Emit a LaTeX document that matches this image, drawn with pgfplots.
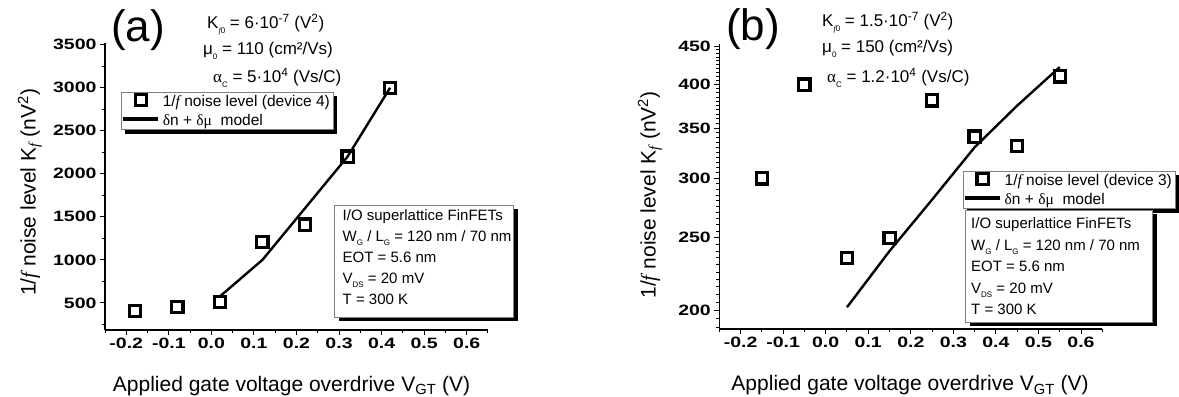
\documentclass[border=0pt]{standalone}
\usepackage{fontspec}
\setmainfont{Liberation Sans}
\newfontfamily\serif{Liberation Serif}
\newfontfamily\tickfont[FakeStretch=1.3]{Liberation Sans}
\usepackage{pgfplots}
\pgfplotsset{compat=1.18}
\usetikzlibrary{shadows}
\newcommand{\fit}{{\serif\itshape f}}
\newcommand{\sm}{\fontsize{15.5bp}{18bp}\selectfont}
\newcommand{\sub}[1]{\raisebox{-0.45ex}{\fontsize{8bp}{8bp}\selectfont #1}}
\pgfplotsset{myaxis/.style={
  scale only axis, clip=false,
  axis lines=left, axis line style={-, line width=1.2bp},
  xmin=-0.25, xmax=0.65,
  xtick={-0.2,-0.1,0,0.1,0.2,0.3,0.4,0.5,0.6},
  xticklabels={-0.2,-0.1,0.0,0.1,0.2,0.3,0.4,0.5,0.6},
  minor xtick={-0.25,-0.15,-0.05,0.05,0.15,0.25,0.35,0.45,0.55,0.65},
  tick align=outside, major tick length=5bp, minor tick length=3bp,
  every tick/.style={black, line width=1bp},
  tick label style={font=\tickfont\bfseries\fontsize{15bp}{17bp}\selectfont},
  label style={font=\fontsize{21bp}{24bp}\selectfont},
  ylabel={1/\fit{} noise level K\textsubscript{\fit} (nV\textsuperscript{2})},
  xlabel={Applied gate voltage overdrive V\textsubscript{GT} (V)},
  legend image code/.code={\draw[mark repeat=2,mark phase=2,#1] plot coordinates {(0bp,1.5bp) (17.5bp,1.5bp) (35bp,1.5bp)};},
  legend style={font=\sm, draw=gray, fill=white, line width=0.6bp, inner xsep=2bp, inner ysep=1bp,
     row sep=3.7bp, drop shadow={shadow xshift=4bp, shadow yshift=-4bp, fill=black, opacity=1},
     nodes={inner sep=1.5bp},
     /tikz/every odd column/.append style={column sep=3bp}},
  legend cell align=left,
  datamark/.style={only marks, mark=square, mark size=5.6bp, mark options={line width=3.2bp, fill=white, draw=black, solid}},
  modelline/.style={black, line width=2.4bp, no marks,
     legend image code/.code={\pgfsetfillcolor{black}\pgfpathrectangle{\pgfpoint{0bp}{-0.3bp}}{\pgfpoint{35bp}{3.6bp}}\pgfusepath{fill}}}
}}
\begin{document}
\begin{tikzpicture}
\useasboundingbox (0,0) rectangle (1179bp,397bp);
% ---------------- (a)
\begin{axis}[myaxis, at={(105bp,67bp)}, anchor=south west, width=383bp, height=287bp,
  ymin=185, ymax=3520,
  ytick={500,1000,1500,2000,2500,3000,3500},
  yticklabels={500,1000,1500,2000,2500,3000,3500},
  minor ytick={250,750,1250,1750,2250,2750,3250},
  ylabel style={at={(axis description cs:-0.196,0.48)}, anchor=center},
  xlabel style={at={(axis description cs:0.487,-0.213)}, anchor=base},
  legend style={at={(0.0418,0.829)}, anchor=north west}]
\addplot[datamark] coordinates {(-0.18,405) (-0.08,455) (0.02,510) (0.12,1205) (0.22,1410) (0.32,2200) (0.42,3000)};
\addlegendentry{1/\fit{} noise level (device 4)}
\addplot[modelline] coordinates {(0.02,575) (0.12,1000) (0.22,1600) (0.32,2200) (0.42,3000)};
\addlegendentry{{\serif δ}n + {\serif δμ}\ \ model}
\end{axis}
% ---------------- (b)
\begin{axis}[myaxis, at={(719.3bp,68bp)}, anchor=south west, width=383bp, height=285bp,
  ymode=log, ymin=189, ymax=453,
  ytick={200,250,300,350,400,450},
  yticklabels={200,250,300,350,400,450},
  minor ytick={190,195,205,210,215,220,225,230,235,240,245,255,260,265,270,275,280,285,290,295,305,310,315,320,325,330,335,340,345,355,360,365,370,375,380,385,390,395,405,410,415,420,425,430,435,440,445},
  ylabel style={at={(axis description cs:-0.181,0.47)}, anchor=center},
  xlabel style={at={(axis description cs:0.498,-0.2175)}, anchor=base},
  legend style={at={(0.636,0.554)}, anchor=north west}]
\addplot[datamark] coordinates {(-0.15,300) (-0.05,400) (0.05,235) (0.15,250) (0.25,381) (0.35,341) (0.45,331) (0.55,410)};
\addlegendentry{1/\fit{} noise level (device 3)}
\addplot[modelline] coordinates {(0.05,202) (0.15,240) (0.25,281) (0.35,330) (0.45,375) (0.55,422)};
\addlegendentry{{\serif δ}n + {\serif δμ}\ \ model}
\end{axis}
% panel labels
\node[font=\fontsize{44bp}{48bp}\selectfont, inner sep=0] at (138bp,367bp) {(a)};
\node[font=\fontsize{44bp}{48bp}\selectfont, inner sep=0] at (753bp,368bp) {(b)};
% parameters
\begin{scope}[every node/.style={font=\fontsize{17bp}{19bp}\selectfont, inner sep=0, anchor=base west}]
\node at (207bp,368bp) {K\sub{\fit0} = 6·10\textsuperscript{-7} (V\textsuperscript{2})};
\node at (203bp,342bp) {μ\sub{0} = 110 (cm²/Vs)};
\node at (213bp,314bp) {{\serif α}\sub{C} = 5·10\textsuperscript{4} (Vs/C)};
\node at (822bp,370bp) {K\sub{\fit0} = 1.5·10\textsuperscript{-7} (V\textsuperscript{2})};
\node at (822bp,344bp) {μ\sub{0} = 150 (cm²/Vs)};
\node at (827bp,314bp) {{\serif α}\sub{C} = 1.2·10\textsuperscript{4} (Vs/C)};
\end{scope}
% info boxes
\fill[black] (338.5bp,187.5bp) rectangle (517.5bp,75.5bp);
\draw[gray, fill=white, line width=0.6bp] (334bp,192bp) rectangle (513bp,80bp);
\fill[black] (969.5bp,182.5bp) rectangle (1156.5bp,70.5bp);
\draw[gray, fill=white, line width=0.6bp] (965bp,187bp) rectangle (1152bp,75bp);
\begin{scope}[every node/.style={font=\fontsize{15bp}{18bp}\selectfont, inner sep=0, anchor=base west}]
\node at (342.5bp,176bp) {I/O superlattice FinFETs};
\node at (342.5bp,155bp) {W\sub{G} / L\sub{G} = 120 nm / 70 nm};
\node at (342.5bp,134bp) {EOT = 5.6 nm};
\node at (342.5bp,113bp) {V\sub{DS} = 20 mV};
\node at (342.5bp,92bp) {T = 300 K};
\node at (971bp,168bp) {I/O superlattice FinFETs};
\node at (971bp,146.5bp) {W\sub{G} / L\sub{G} = 120 nm / 70 nm};
\node at (971bp,125bp) {EOT = 5.6 nm};
\node at (971bp,103.5bp) {V\sub{DS} = 20 mV};
\node at (971bp,82bp) {T = 300 K};
\end{scope}
\end{tikzpicture}
\end{document}
